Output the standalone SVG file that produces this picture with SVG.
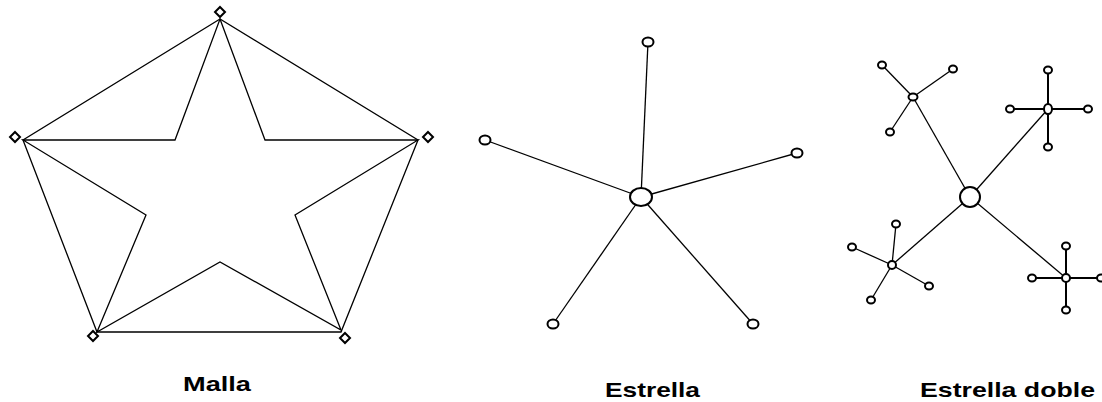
<svg xmlns="http://www.w3.org/2000/svg" width="1102" height="402" viewBox="0 0 1102 402">
<style>
.ln{fill:none;stroke:#000;stroke-width:1.3;stroke-linejoin:miter}
.lt{fill:none;stroke:#000;stroke-width:2}
.nd{fill:#fff;stroke:#000;stroke-width:2}
.lbl{font-family:"Liberation Sans",Arial,sans-serif;font-weight:bold;font-size:21px;fill:#000}
</style>
<g id="connectors">
<!-- Malla -->
<polygon class="ln" points="220,19 23,140 97,332 341,332 418,140"/>
<polygon class="ln" points="220,19 265,140 418,140 295,215 341,330 220,262 97,332 146,215 23,140 175,140"/>
<!-- Estrella -->
<line class="ln" x1="641" y1="197" x2="648" y2="42"/>
<line class="ln" x1="641" y1="197" x2="485" y2="140"/>
<line class="ln" x1="641" y1="197" x2="797" y2="153"/>
<line class="ln" x1="641" y1="197" x2="553" y2="324"/>
<line class="ln" x1="641" y1="197" x2="753" y2="324"/>
<!-- Estrella doble -->
<line class="ln" x1="970" y1="197" x2="913" y2="97"/>
<line class="ln" x1="970" y1="197" x2="1048" y2="109"/>
<line class="ln" x1="970" y1="197" x2="892" y2="265"/>
<line class="ln" x1="970" y1="197" x2="1066" y2="278"/>
<line class="ln" x1="913" y1="97" x2="882" y2="65"/>
<line class="ln" x1="913" y1="97" x2="953" y2="69"/>
<line class="ln" x1="913" y1="97" x2="890" y2="132"/>
<line class="lt" x1="1048" y1="109" x2="1048" y2="70"/>
<line class="lt" x1="1048" y1="109" x2="1048" y2="147"/>
<line class="lt" x1="1048" y1="109" x2="1010" y2="109"/>
<line class="lt" x1="1048" y1="109" x2="1088" y2="109"/>
<line class="ln" x1="892" y1="265" x2="896" y2="224"/>
<line class="ln" x1="892" y1="265" x2="852" y2="247"/>
<line class="ln" x1="892" y1="265" x2="929" y2="286"/>
<line class="ln" x1="892" y1="265" x2="871" y2="300"/>
<line class="lt" x1="1066" y1="278" x2="1066" y2="246"/>
<line class="lt" x1="1066" y1="278" x2="1066" y2="310"/>
<line class="lt" x1="1066" y1="278" x2="1032" y2="278"/>
<line class="lt" x1="1066" y1="278" x2="1102" y2="278"/>
</g>
<g id="malla-top"><polygon class="nd" points="220,7 225,12 220,17 215,12"/></g>
<g id="malla-left"><polygon class="nd" points="15,132 20,137 15,142 10,137"/></g>
<g id="malla-right"><polygon class="nd" points="428,132 433,137 428,142 423,137"/></g>
<g id="malla-bl"><polygon class="nd" points="93,331 98,336 93,341 88,336"/></g>
<g id="malla-br"><polygon class="nd" points="345,333 350,338 345,343 340,338"/></g>
<g id="estrella-center"><ellipse class="nd" cx="641" cy="197" rx="11" ry="9" stroke-width="2.5"/></g>
<g id="estrella-top"><ellipse class="nd" cx="648" cy="42" rx="5.5" ry="4.5"/></g>
<g id="estrella-left"><ellipse class="nd" cx="485" cy="140" rx="5.5" ry="4.5"/></g>
<g id="estrella-right"><ellipse class="nd" cx="797" cy="153" rx="5.5" ry="4.5"/></g>
<g id="estrella-bl"><ellipse class="nd" cx="553" cy="324" rx="5.5" ry="4.5"/></g>
<g id="estrella-br"><ellipse class="nd" cx="753" cy="324" rx="5.5" ry="4.5"/></g>
<g id="doble-center"><ellipse class="nd" cx="970" cy="197" rx="10" ry="10" stroke-width="2.5"/></g>
<g id="doble-hub-tl"><ellipse class="nd" cx="913" cy="97" rx="4.5" ry="3.5"/></g>
<g id="doble-hub-tr"><ellipse class="nd" cx="1048" cy="109" rx="4" ry="5"/></g>
<g id="doble-hub-bl"><ellipse class="nd" cx="892" cy="265" rx="4" ry="4"/></g>
<g id="doble-hub-br"><ellipse class="nd" cx="1066" cy="278" rx="4" ry="4"/></g>
<g id="doble-leaves">
<ellipse class="nd" cx="882" cy="65" rx="4" ry="3.5"/>
<ellipse class="nd" cx="953" cy="69" rx="4" ry="3.5"/>
<ellipse class="nd" cx="890" cy="132" rx="4" ry="3.5"/>
<ellipse class="nd" cx="1048" cy="70" rx="4" ry="3.5"/>
<ellipse class="nd" cx="1010" cy="109" rx="4" ry="3.5"/>
<ellipse class="nd" cx="1088" cy="109" rx="4" ry="3.5"/>
<ellipse class="nd" cx="1048" cy="147" rx="4" ry="3.5"/>
<ellipse class="nd" cx="896" cy="224" rx="4" ry="3.5"/>
<ellipse class="nd" cx="852" cy="247" rx="4" ry="3.5"/>
<ellipse class="nd" cx="929" cy="286" rx="4" ry="3.5"/>
<ellipse class="nd" cx="871" cy="300" rx="4" ry="3.5"/>
<ellipse class="nd" cx="1066" cy="246" rx="4" ry="3.5"/>
<ellipse class="nd" cx="1066" cy="310" rx="4" ry="3.5"/>
<ellipse class="nd" cx="1032" cy="278" rx="4" ry="3.5"/>
<ellipse class="nd" cx="1101" cy="278" rx="4" ry="3.5"/>
</g>
<g id="labels">
<text class="lbl" x="183" y="391" textLength="68" lengthAdjust="spacingAndGlyphs">Malla</text>
<text class="lbl" x="605" y="397" textLength="95" lengthAdjust="spacingAndGlyphs">Estrella</text>
<text class="lbl" x="920" y="397" textLength="175" lengthAdjust="spacingAndGlyphs">Estrella doble</text>
</g>
</svg>
